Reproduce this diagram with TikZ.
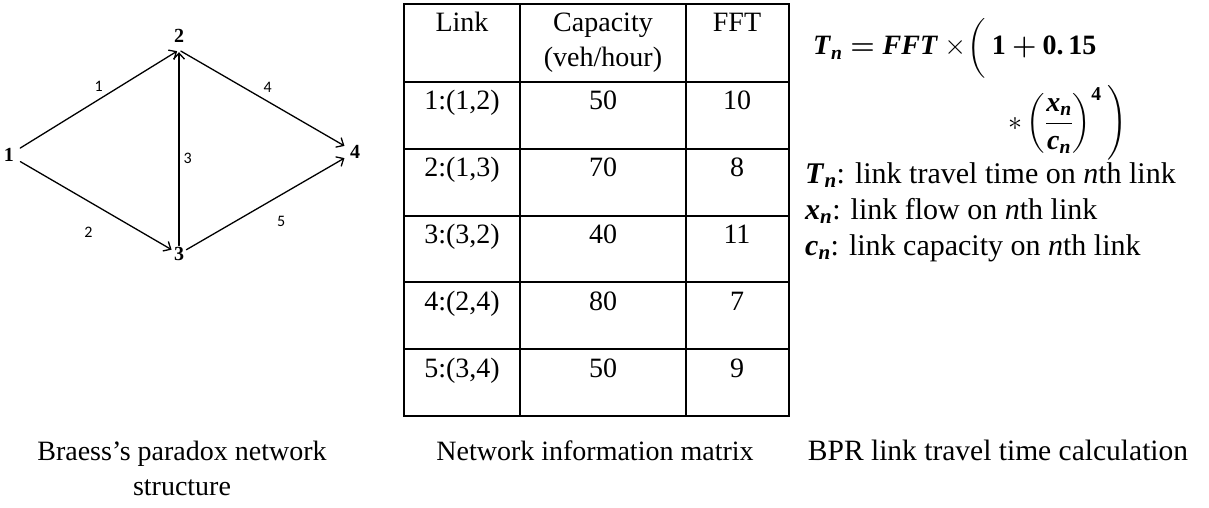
\RequirePackage{fix-cm}
\documentclass[tikz,border=0pt]{standalone}
\usepackage{amsmath}
\usepackage{bm}
\usepackage{fontspec}
\setmainfont{Liberation Serif}
\newfontfamily\edgefont{Carlito}
\usetikzlibrary{arrows.meta}
\newcommand\bi[1]{\textbf{\textit{#1}}}

\begin{document}
\begin{tikzpicture}[x=1pt,y=-1pt,>={Straight Barb[length=6pt,width=11pt]}, line join=round, line cap=round,
  font=\fontsize{28}{35}\selectfont,
  vertex/.style={circle,inner sep=0pt,minimum size=26pt,font=\fontsize{20}{24}\selectfont\bfseries},
  elabel/.style={font=\fontsize{16}{18}\selectfont\edgefont,inner sep=1pt},
  link/.style={->,line width=1.3pt},
  tabline/.style={line width=1.6pt,line cap=rect},
  cell/.style={anchor=base,inner sep=0pt},
  eqline/.style={anchor=base west,inner sep=0pt},
  defline/.style={anchor=base west,inner sep=0pt,font=\fontsize{30}{36}\selectfont},
  caption/.style={anchor=north,inner sep=0pt,align=center}]
\useasboundingbox (0,0) rectangle (1209,508);
% network
\node[vertex] (v1) at (9,155) {1};
\node[vertex,minimum size=4pt,label={[font=\fontsize{20}{24}\selectfont\bfseries,label distance=2pt]above:2}] (v2) at (179,50) {};
\node[vertex,minimum size=14pt] (v3) at (179,254) {3};
\node[vertex,minimum size=24pt] (v4) at (355,152) {4};
\draw[link] (v1) -- node[elabel,above=6pt] {1} (v2);
\draw[link] (v1) -- node[elabel,pos=.45,below=24pt] {2} (v3);
\draw[link] (v3) -- node[elabel,pos=.45,right=3pt] {3} (v2);
\draw[link] (v2) -- node[elabel,pos=.53,above=7pt] {4} (v4);
\draw[link] (v3) -- node[elabel,pos=.6,below=20pt] {5} (v4);
% table
\foreach \y in {4,82,149,216,282,349,416} \draw[tabline] (404,\y) -- (789,\y);
\foreach \x in {404,520,686,789} \draw[tabline] (\x,4) -- (\x,416);
\node[cell] (hlink) at (462,32) {Link};
\node[cell] (hcap) at (603,32) {Capacity};
\node[cell] (hunit) at (603,67) {(veh/hour)};
\node[cell] (hfft) at (737,32) {FFT};
\foreach \lk/\cp/\ff [count=\i, evaluate=\i as \yb using 82+(\i-1)*66.8+28] in
  {{1:(1,2)}/50/10,{2:(1,3)}/70/8,{3:(3,2)}/40/11,{4:(2,4)}/80/7,{5:(3,4)}/50/9}{
  \node[cell] (lk\i) at (462,\yb) {\lk};
  \node[cell] (cap\i) at (603,\yb) {\cp};
  \node[cell] (fft\i) at (737,\yb) {\ff};
}
% BPR formula
\node[eqline] (bpr1) at (813,55)
  {$\bi{T}_{\bi{n}}\mathrel{\bm{=}}\bi{FFT}\times\mkern-3mu\left(\vrule height 33pt depth 19pt width 0pt\right.\textbf{1}\mathbin{\bm{+}}\textbf{0.\,15}$};
\node[eqline] (bpr2) at (1008,130)
  {$\displaystyle\ast\left(\frac{\bi{x}_{\bi{n}}}{\bi{c}_{\bi{n}}}\right)^{\textbf{4}}\left.\vrule height 42pt depth 28pt width 0pt\right)$};
\node[defline] (defT) at (805,183) {$\bi{T}_{\bi{n}}$: link travel time on \textit{n}th link};
\node[defline] (defx) at (805,219) {$\bi{x}_{\bi{n}}$: link flow on \textit{n}th link};
\node[defline] (defc) at (805,255) {$\bi{c}_{\bi{n}}$: link capacity on \textit{n}th link};
% captions
\node[caption] (capnet) at (182,441) {Braess’s paradox network\\structure};
\node[caption] (captab) at (595,441) {Network information matrix};
\node[caption,font=\fontsize{29.5}{35}\selectfont] (capbpr) at (998,440) {BPR link travel time calculation};
\end{tikzpicture}
\end{document}
